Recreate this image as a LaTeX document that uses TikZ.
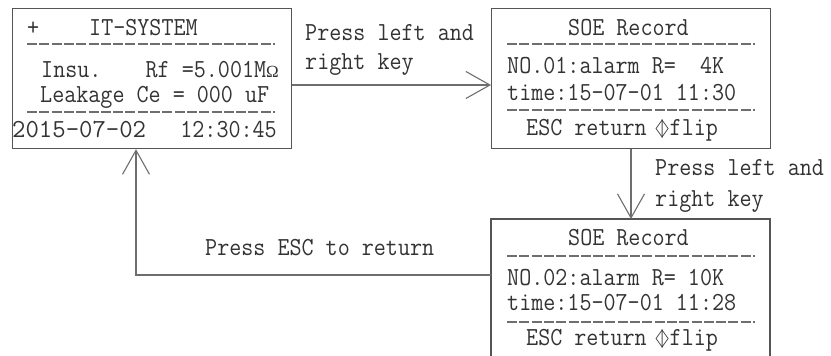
\documentclass[tikz,border=0pt]{standalone}
\usepackage{fontspec}
\setmonofont[FakeStretch=0.9]{Latin Modern Mono}
\newfontfamily\datefont{Latin Modern Mono}
\newfontfamily\symfont[FakeStretch=0.36]{DejaVu Sans}
\newfontfamily\omfont{Liberation Serif}
\usetikzlibrary{arrows.meta}
\definecolor{linegray}{HTML}{6E6E6E}
\definecolor{boxgray}{HTML}{555555}
\definecolor{txtgray}{HTML}{333333}
\tikzset{
  screen/.style={draw=boxgray, line width=1.2pt},
  sep/.style={draw=linegray, line width=1.4pt, dash pattern=on 10pt off 2.3pt},
  txt/.style={anchor=base west, inner sep=0pt, text=txtgray, font=\ttfamily\fontsize{26}{26}\selectfont},
  txtr/.style={txt, anchor=base east},
  lbl/.style={anchor=base west, inner sep=0pt, text=txtgray, font=\ttfamily\fontsize{26}{26}\selectfont},
  conn/.style={draw=linegray, line width=1.2pt, -{Straight Barb[length=24pt, width=27pt, line width=1.1pt]}},
}
\newcommand{\flipsym}{\makebox[22pt][r]{\symfont\fontsize{25}{25}\selectfont\char"25C1\kern-0.8pt\char"25B7}\kern1pt}
\begin{document}
\begin{tikzpicture}[x=1pt,y=-1pt]
\useasboundingbox (0,0) rectangle (831,356);
% screen 1
\node[screen, minimum width=279pt, minimum height=140pt, anchor=north west, inner sep=0pt] (s1) at (11.5,8) {};
\node[txt] (s1a) at (27,35) {+};
\node[txt] (s1b) at (89,35) {IT-SYSTEM};
\draw[sep] (27,44) -- (275,44);
\node[txt] (s1c) at (41,77) {Insu.};
\node[txtr] (s1d) at (279,77) {Rf =5.001M{\omfont\fontsize{17}{17}\selectfont Ω}};
\node[txt] (s1e) at (40,102) {Leakage Ce = 000 uF};
\draw[sep] (27,112) -- (275,112);
\node[txt, font=\datefont\fontsize{26}{26}\selectfont] (s1f) at (12,137) {2015-07-02};
\node[txtr] (s1g) at (277,137) {12:30:45};
% screen 2
\node[screen, minimum width=279pt, minimum height=140pt, anchor=north west, inner sep=0pt] (s2) at (491,8) {};
\node[txt] (s2a) at (568,35) {SOE Record};
\draw[sep] (507,44) -- (755,44);
\node[txt] (s2b) at (507,73) {NO.01:alarm R=~~4K};
\node[txt] (s2c) at (507,100) {time:15-07-01 11:30};
\draw[sep] (507,110) -- (755,110);
\node[txt] (s2d) at (526,135) {ESC return\flipsym flip};
% screen 3
\coordinate (s3nw) at (491,219);
\coordinate (s3ne) at (770,219);
\draw[screen] (491,360) -- (s3nw) -- (s3ne) -- (770,360);
\node[inner sep=0pt, minimum width=279pt, minimum height=140pt, anchor=north west] (s3) at (491,219) {};
\node[txt] (s3a) at (568,245) {SOE Record};
\draw[sep] (507,256) -- (755,256);
\node[txt] (s3b) at (507,285) {NO.02:alarm R= 10K};
\node[txt] (s3c) at (507,310) {time:15-07-01 11:28};
\draw[sep] (507,322) -- (755,322);
\node[txt] (s3d) at (526,345) {ESC return\flipsym flip};
% connectors
\draw[conn] (s1.east |- 0,85) -- (s2.west |- 0,85);
\node[lbl] (l1a) at (305,40) {Press left and};
\node[lbl] (l1b) at (305,69) {right key};
\draw[conn] (s2.south -| 631,0) -- (s3.north -| 631,0);
\node[lbl] (l2a) at (655,175) {Press left and};
\node[lbl] (l2b) at (655,206) {right key};
\coordinate (corner) at (136,275);
\draw[conn] (s3.west |- 0,275) -- (corner) -- (s1.south -| corner);
\node[lbl] (l3) at (205,255) {Press ESC to return};
\end{tikzpicture}
\end{document}
